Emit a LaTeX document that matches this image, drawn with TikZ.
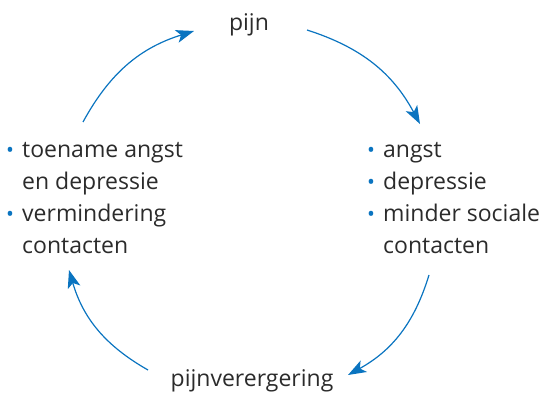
\documentclass[tikz,border=0pt]{standalone}
\usepackage{fontspec}
\setmainfont{Open Sans}
\usepackage{tikz}
\usetikzlibrary{arrows.meta}
\definecolor{pblue}{HTML}{0A74C0}
\definecolor{ptext}{HTML}{2B2B2B}
\newcommand{\blt}{\makebox[16pt][l]{\textcolor{pblue}{\raisebox{-0.5pt}{\fontsize{21}{21}\selectfont •}}}}
\newcommand{\ind}{\hspace*{16pt}}

\begin{document}
\begin{tikzpicture}[x=1pt,y=1pt,
  lbl/.style={text=ptext,font=\fontsize{23}{32}\selectfont,inner sep=0pt},
  lst/.style={lbl,align=left,anchor=base west},
  arr/.style={draw=pblue,line width=1.2pt,-{Stealth[length=18pt,width=13pt,inset=4.5pt]}}]
\useasboundingbox (0,0) rectangle (543,394);

\node[lbl] (pijn) at (249,369) {pijn};
\node[lbl] (verergering) at (252,13) {pijnverergering};
\node[lst] (links) at (6,141)
{\blt toename angst\\ \ind en depressie\\ \blt vermindering\\ \ind contacten};
\node[lst] (rechts) at (367,141)
{\blt angst\\ \blt depressie\\ \blt minder sociale\\ \ind contacten};

\coordinate (tl-a) at (83,272);
\coordinate (tl-b) at (194,363);
\coordinate (tr-a) at (307,364);
\coordinate (tr-b) at (420,270);
\coordinate (br-a) at (429,119);
\coordinate (br-b) at (348,19);
\coordinate (bl-a) at (148,24);
\coordinate (bl-b) at (69,124);

\draw[arr] (tl-a) to[bend left=22] (tl-b);
\draw[arr] (tr-a) to[bend left=22] (tr-b);
\draw[arr] (br-a) to[bend left=22] (br-b);
\draw[arr] (bl-a) to[bend left=22] (bl-b);
\end{tikzpicture}
\end{document}
